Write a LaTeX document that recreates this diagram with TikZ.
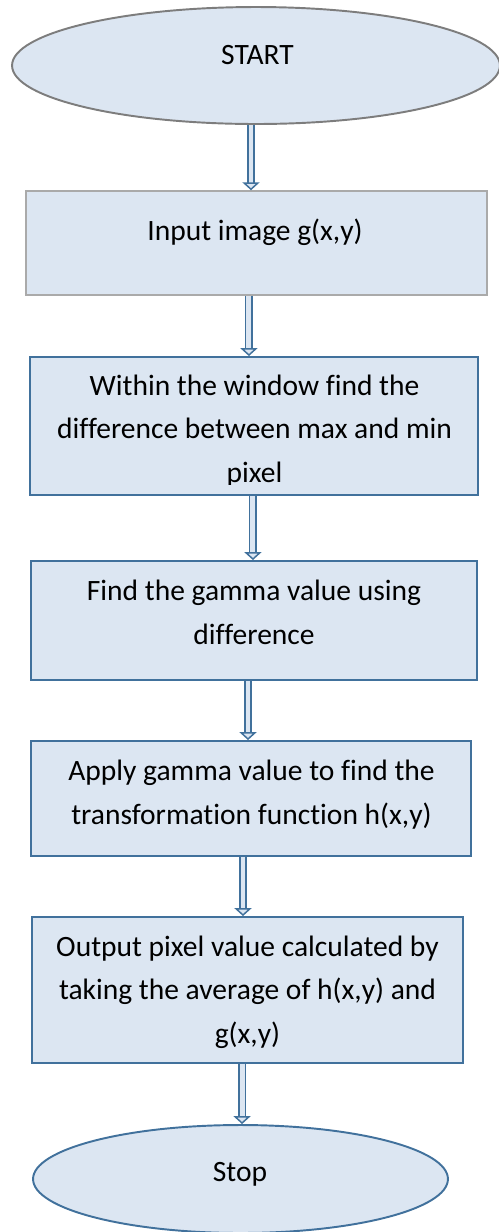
\documentclass[tikz,border=0pt]{standalone}
\usepackage{fontspec}
\setmainfont{Carlito}[Ligatures=NoCommon]
\usetikzlibrary{shapes.geometric, arrows.meta, positioning, calc}
\definecolor{boxfill}{RGB}{220,230,242}
\definecolor{boxline}{RGB}{65,113,156}
\definecolor{greyline}{RGB}{125,125,125}
\definecolor{lightgrey}{RGB}{170,170,170}

\begin{document}
\begin{tikzpicture}[x=0.02cm, y=-0.02cm,
  term/.style={draw=boxline, fill=boxfill, ellipse, line width=1.1pt, inner sep=0pt},
  proc/.style={draw=boxline, fill=boxfill, rectangle, line width=1.1pt, inner sep=0pt},
  txt/.style={font=\fontsize{16.8}{24.5}\selectfont, align=center, anchor=base},
  flow/.style={draw=boxline, line width=0.85pt, double=boxfill, double distance=2.8pt,
    -{Triangle[length=4.5pt, width=9.7pt, fill=boxfill, line width=0.85pt]}}]
\useasboundingbox (0,0) rectangle (499,1232);

% Start and input
\node[term, draw=greyline, minimum width=9.76cm, minimum height=2.34cm] (start) at (256,65.5) {};
\node[txt] (start-txt) at (257.5,64) {START};

\node[proc, draw=lightgrey, line width=0.85pt, minimum width=9.22cm, minimum height=2.08cm] (input) at (256.5,243) {};
\node[txt] (input-txt) at (255,240) {Input image g(x,y)};

% Processing steps (text anchored at the last baseline)
\node[proc, minimum width=8.96cm, minimum height=2.76cm] (window) at (254,426) {};
\begin{scope}
  \clip (0,0) rectangle (499,484);
  \node[txt] (window-txt) at (254.5,482) {Within the window find the\\difference between max and min\\pixel};
\end{scope}

\node[proc, minimum width=8.92cm, minimum height=2.38cm] (gamma) at (254,620.5) {};
\node[txt] (gamma-txt) at (254,644) {Find the gamma value using\\difference};

\node[proc, minimum width=8.8cm, minimum height=2.3cm] (apply) at (251,798.5) {};
\node[txt] (apply-txt) at (251.5,824) {Apply gamma value to find the\\transformation function h(x,y)};

\node[proc, minimum width=8.62cm, minimum height=2.92cm] (output) at (247.5,990) {};
\node[txt] (output-txt) at (247.5,1043) {Output pixel value calculated by\\taking the average of h(x,y) and\\g(x,y)};

% Stop
\node[term, minimum width=8.3cm, minimum height=2.16cm] (stop) at (240.5,1179) {};
\node[txt] (stop-txt) at (240,1181) {Stop};

% Arrows
\draw[flow] ([xshift=-2.85pt]start.south) -- ([xshift=-2.85pt]start.south |- input.north);
\draw[flow] ([xshift=-4.3pt]input.south) -- ([xshift=-4.3pt]input.south |- window.north);
\draw[flow] ([xshift=-0.6pt]window.south) -- ([xshift=-0.6pt]window.south |- gamma.north);
\draw[flow] ([xshift=-3.4pt]gamma.south) -- ([xshift=-3.4pt]gamma.south |- apply.north);
\draw[flow] ([xshift=-4.55pt]apply.south) -- ([xshift=-4.55pt]apply.south |- output.north);
\draw[flow] ([xshift=-3.1pt]output.south) -- ([xshift=-3.1pt]output.south |- stop.north);
\end{tikzpicture}
\end{document}
